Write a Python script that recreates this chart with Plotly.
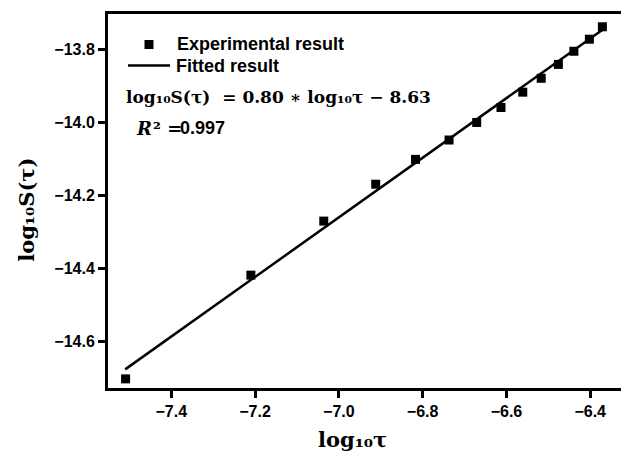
import plotly.graph_objects as go

log_tau = [-7.509, -7.210, -7.036, -6.912, -6.817, -6.737, -6.671, -6.613,
           -6.561, -6.517, -6.476, -6.439, -6.402, -6.371]
log_S = [-14.702, -14.418, -14.270, -14.169, -14.101, -14.048, -14.000, -13.959,
         -13.917, -13.879, -13.841, -13.805, -13.772, -13.738]

# Fitted line endpoints
fit_x = [-7.51, -6.363]
fit_y = [-14.676, -13.740]

SANS = "Liberation Sans"
SERIF = "DejaVu Serif"

fig = go.Figure()
fig.add_trace(go.Scatter(
    x=log_tau, y=log_S, mode="markers", name="Experimental result",
    marker=dict(symbol="square", size=9, color="black"),
))
fig.add_trace(go.Scatter(
    x=fit_x, y=fit_y, mode="lines", name="Fitted result",
    line=dict(color="black", width=2.5),
))

axis_style = dict(
    showline=True, linecolor="black", linewidth=3, mirror=True,
    ticks="outside", ticklen=7, tickwidth=3, tickcolor="black",
    showgrid=False, zeroline=False, automargin=False,
    tickfont=dict(family=SANS, size=16, weight="bold", color="black"),
)
fig.update_xaxes(range=[-7.551, -6.317], dtick=0.2, tick0=-7.4, tickformat=".1f", **axis_style)
fig.update_yaxes(range=[-14.727, -13.703], dtick=0.2, tick0=-14.6, tickformat=".1f", **axis_style)

def note(x, y, text, family, size, anchor="left", angle=0, style="normal"):
    fig.add_annotation(
        xref="paper", yref="paper", x=x, y=y, xanchor=anchor, yanchor="middle",
        text=text, showarrow=False, textangle=angle,
        font=dict(family=family, size=size, color="black", weight="bold", style=style),
    )

# axis titles
note(0.472, -0.139, "log₁₀τ", SERIF, 21, anchor="center")
note(-0.157, 0.476, "log₁₀S(τ)", SERIF, 21, anchor="center", angle=-90)

# legend
fig.add_shape(type="rect", xref="paper", yref="paper",
              x0=0.0706, x1=0.088, y0=0.9064, y1=0.9305,
              line=dict(width=0), fillcolor="black")
note(0.1300, 0.9187, "Experimental result", SANS, 18)
fig.add_shape(type="line", xref="paper", yref="paper",
              x0=0.0387, x1=0.1199, y0=0.862, y1=0.862,
              line=dict(color="black", width=2.5))
note(0.1286, 0.862, "Fitted result", SANS, 18)

# fit equation and R²
note(0.031, 0.779, "log₁₀S(τ)  = 0.80 ∗ log₁₀τ − 8.63", SERIF, 17)
note(0.0503, 0.695, "R", SERIF, 18, style="italic")
note(0.0832, 0.695, "² =", SERIF, 18)
note(0.1354, 0.695, "0.997", SANS, 18)

fig.update_layout(
    template="none",
    width=629, height=454,
    margin=dict(l=100, r=12, t=6, b=74),
    plot_bgcolor="white", paper_bgcolor="white",
    font=dict(color="black"),
    showlegend=False,
)

fig.write_html("out.html")
